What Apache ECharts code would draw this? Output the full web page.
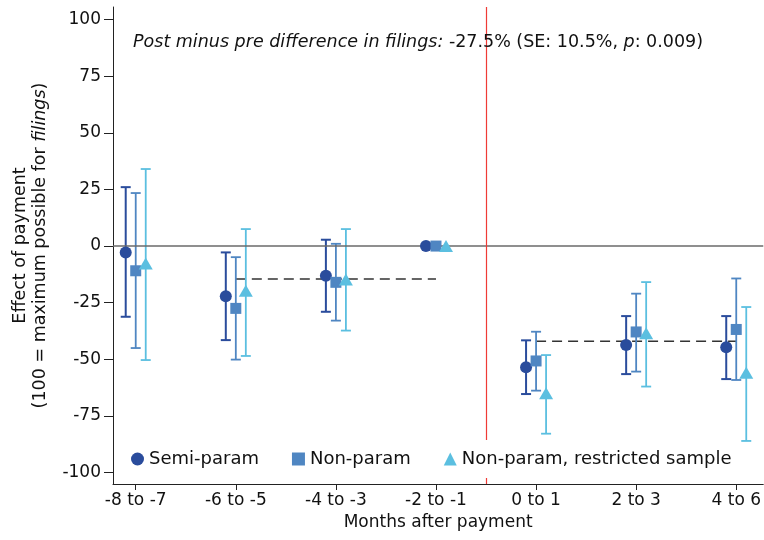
<!DOCTYPE html>
<html><head><meta charset="utf-8">
<script src="https://cdn.jsdelivr.net/npm/echarts@6/dist/echarts.min.js"></script>
<style>html,body{margin:0;padding:0;background:#fff}#c{width:764px;height:540px}</style>
</head><body><div id="c"></div>
<script>
const categories = ['-8 to -7','-6 to -5','-4 to -3','-2 to -1','0 to 1','2 to 3','4 to 6'];
const yTicks = [-100,-75,-50,-25,0,25,50,75,100];
const semiEst = [-2.8, -22.1, -13.1, 0, -53.5, -43.7, -44.7];
const semiLo  = [-31.2, -41.5, -29.0, null, -65.3, -56.5, -58.7];
const semiHi  = [26.0, -2.8, 2.8, null, -41.6, -30.9, -30.9];
const nonEst  = [-10.9, -27.5, -16.0, 0, -50.7, -37.9, -36.8];
const nonLo   = [-45.0, -50.1, -32.9, null, -63.8, -55.4, -59.1];
const nonHi   = [23.4, -4.9, 1.0, null, -37.8, -21.0, -14.3];
const resEst  = [-7.7, -19.7, -14.7, 0, -65.0, -38.5, -55.9];
const resLo   = [-50.3, -48.5, -37.3, null, -82.8, -62.0, -86.0];
const resHi   = [34.0, 7.5, 7.5, null, -48.1, -15.9, -26.9];
const preMean = -14.5, preFrom = 1, preTo = 3;
const postMean = -42.0, postFrom = 4, postTo = 6;
const paymentAt = 3.5;

const FONT = 'DejaVu Sans, Liberation Sans, Arial, sans-serif';
const cSemi = '#2a4c9c', cNon = '#4f86c2', cRes = '#5bbfe0';
const offsets = {semi: -0.1, non: 0, res: 0.1};

function pts(est, off){ return est.map((v,i)=>[i+off, v]); }
function bars(lo, hi, off){ return lo.map((l,i)=> l==null ? null : [i+off, l, hi[i]]).filter(d=>d); }
function errSeries(name, data, color, w){
  return {
    type:'custom', name: name, data: data, z: 3, silent: true,
    renderItem: function(params, api){
      const x = api.value(0);
      const a = api.coord([x, api.value(1)]);
      const b = api.coord([x, api.value(2)]);
      const hw = 5;
      const st = {stroke: color, lineWidth: w};
      return {type:'group', children:[
        {type:'line', shape:{x1:a[0],y1:a[1],x2:b[0],y2:b[1]}, style:st},
        {type:'line', shape:{x1:a[0]-hw,y1:a[1],x2:a[0]+hw,y2:a[1]}, style:st},
        {type:'line', shape:{x1:b[0]-hw,y1:b[1],x2:b[0]+hw,y2:b[1]}, style:st}
      ]};
    }
  };
}

const chart = echarts.init(document.getElementById('c'), null, {renderer:'canvas'});
chart.setOption({
  animation:false,
  backgroundColor:'#fff',
  textStyle:{fontFamily:FONT},
  grid:{left:113, right:0, top:7, bottom:56},
  xAxis:{
    type:'value', min:-0.227, max:6.27,
    splitLine:{show:false},
    axisLine:{show:true, onZero:false, lineStyle:{color:'#222', width:1}},
    axisTick:{show:true, length:6, customValues:[0,1,2,3,4,5,6], lineStyle:{color:'#222'}},
    axisLabel:{customValues:[0,1,2,3,4,5,6], formatter:(v)=>categories[Math.round(v)], color:'#111', fontSize:17, margin:8, fontFamily:FONT},
    name:'Months after payment', nameLocation:'middle', nameGap:28,
    nameTextStyle:{color:'#111', fontSize:17, fontFamily:FONT}
  },
  yAxis:{
    type:'value', min:-105, max:105.5,
    splitLine:{show:false},
    axisLine:{show:true, onZero:false, lineStyle:{color:'#222', width:1}},
    axisTick:{show:true, length:9, customValues:yTicks, lineStyle:{color:'#222'}},
    axisLabel:{customValues:yTicks, color:'#111', fontSize:17, margin:12, fontFamily:FONT},
    name:'{a|Effect of payment}\n{a|(100 = maximum possible for }{b|filings}{a|)}',
    nameLocation:'middle', nameGap:63,
    nameTextStyle:{color:'#111', fontSize:17, fontFamily:FONT, lineHeight:20,
      rich:{a:{fontSize:17.5, fontFamily:FONT, color:'#111', lineHeight:20},
            b:{fontSize:17.5, fontFamily:FONT, color:'#111', fontStyle:'italic', lineHeight:20}}}
  },
  legend:{
    left:123, top:440, padding:[10,8], itemGap:33, itemWidth:13, itemHeight:13,
    backgroundColor:'#fff', z:10,
    textStyle:{fontSize:18, color:'#111', fontFamily:FONT},
    data:['Semi-param','Non-param','Non-param, restricted sample']
  },
  graphic:[{
    type:'text', left:133, top:33, z:20,
    style:{
      text:'{i|Post minus pre difference in filings:} -27.5% (SE: 10.5%, {i|p}: 0.009)',
      fontSize:17.5, fontFamily:FONT, fill:'#111',
      rich:{i:{fontStyle:'italic', fontSize:17.5, fontFamily:FONT, fill:'#111'}}
    }
  }],
  series:[
    {type:'line', name:'ref', data:[], silent:true, z:1,
      markLine:{symbol:'none', silent:true, label:{show:false},
        data:[
          {yAxis:0, lineStyle:{color:'#6a6a6a', width:1.5, type:'solid'}},
          {xAxis:paymentAt, lineStyle:{color:'#ef3b36', width:1.2, type:'solid'}}
        ]}},
    {type:'line', name:'pre', data:[[preFrom,preMean],[preTo,preMean]], symbol:'none', silent:true, z:2,
      lineStyle:{color:'#333', width:1.5, type:[10,6]}},
    {type:'line', name:'post', data:[[postFrom,postMean],[postTo,postMean]], symbol:'none', silent:true, z:2,
      lineStyle:{color:'#333', width:1.5, type:[10,6]}},
    errSeries('e1', bars(semiLo, semiHi, offsets.semi), cSemi, 2),
    errSeries('e2', bars(nonLo, nonHi, offsets.non), cNon, 1.8),
    errSeries('e3', bars(resLo, resHi, offsets.res), cRes, 1.8),
    {type:'scatter', name:'Semi-param', data:pts(semiEst, offsets.semi), symbol:'circle', symbolSize:12, z:5,
      itemStyle:{color:cSemi, opacity:1}},
    {type:'scatter', name:'Non-param', data:pts(nonEst, offsets.non), symbol:'rect', symbolSize:11, z:5,
      itemStyle:{color:cNon, opacity:1}},
    {type:'scatter', name:'Non-param, restricted sample', data:pts(resEst, offsets.res), symbol:'triangle', symbolSize:[14,12], z:5,
      itemStyle:{color:cRes, opacity:1}}
  ]
});
</script></body></html>
